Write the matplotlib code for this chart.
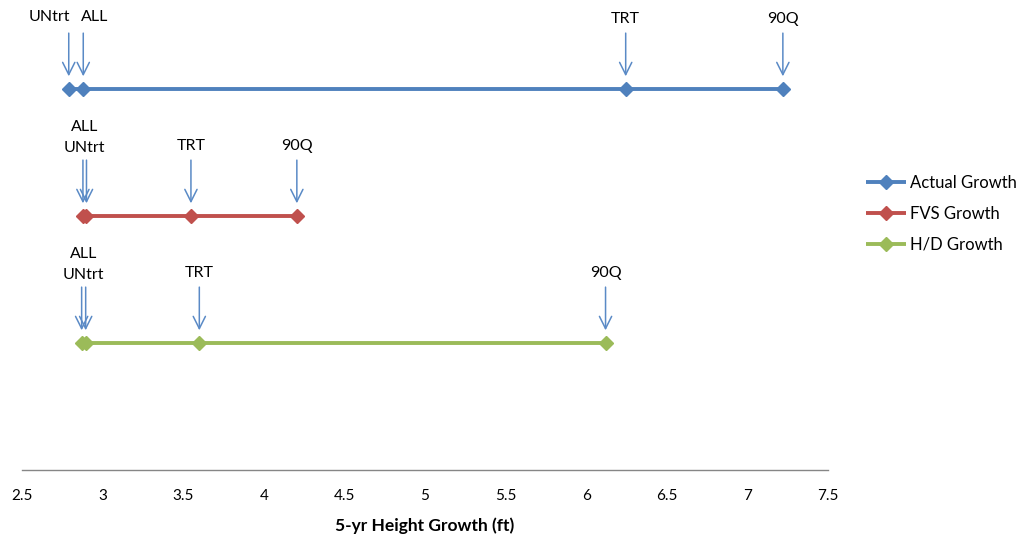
import numpy as np
import matplotlib
matplotlib.use("Agg")
import matplotlib.pyplot as plt

plt.rcParams['font.family'] = ['Lato', 'DejaVu Sans']

# values (ft)
stats = ['UNtrt', 'ALL', 'TRT', '90Q']
series = ['Actual Growth', 'FVS Growth', 'H/D Growth']
actual = [2.79, 2.88, 6.245, 7.22]
fvs = [2.878, 2.90, 3.548, 4.205]
hd = [2.87, 2.895, 3.60, 6.12]
rows = [3, 2, 1]
colors = ['#4F81BD', '#C0504D', '#9BBB59']
arrow_col = '#5A8AC6'

fig = plt.figure(figsize=(10.26, 5.37), dpi=100)
ax = fig.add_axes([22/1026, 67/537, 806/1026, 470/537])

for name, vals, yrow, c in zip(series, [actual, fvs, hd], rows, colors):
    xs = np.sort(vals)
    ax.plot(xs, [yrow]*len(xs), color=c, lw=2.8, marker='D', ms=7,
            solid_capstyle='butt', label=name, zorder=3)
    close = abs(vals[0] - vals[1]) < 0.05
    for i, (s, v) in enumerate(zip(stats, vals)):
        ax.annotate('', xy=(v, yrow + 0.10), xytext=(v, yrow + 0.44),
                    arrowprops=dict(arrowstyle='->', color=arrow_col, lw=1.1,
                                    mutation_scale=22, shrinkA=0, shrinkB=0))
        if i < 2 and close:
            xc = (vals[0] + vals[1]) / 2
            ty = yrow + 0.535 if s == 'UNtrt' else yrow + 0.70
            ax.text(xc, ty, s, ha='center', va='center', fontsize=11.5)
        elif i == 0:
            ax.annotate(s, xy=(v, yrow + 0.565), xytext=(1, 0), textcoords='offset points',
                        ha='right', va='center', fontsize=11.5)
        elif i == 1:
            ax.annotate(s, xy=(v, yrow + 0.565), xytext=(-2, 0), textcoords='offset points',
                        ha='left', va='center', fontsize=11.5)
        else:
            ax.text(v, yrow + 0.55, s, ha='center', va='center', fontsize=11.5)

ax.set_xlim(2.5, 7.5)
ax.set_ylim(0, 470/127)
ax.set_xticks(np.arange(2.5, 7.51, 0.5))
ax.set_xticklabels(['2.5', '3', '3.5', '4', '4.5', '5', '5.5', '6', '6.5', '7', '7.5'])
ax.tick_params(axis='x', length=0, labelsize=11, pad=14)
ax.set_yticks([])
for sp in ['top', 'right', 'left']:
    ax.spines[sp].set_visible(False)
ax.spines['bottom'].set_color('#868686')
ax.spines['bottom'].set_linewidth(1.0)
ax.set_xlabel('5-yr Height Growth (ft)', fontsize=12.5, fontweight='bold', labelpad=10)

fig.legend(loc='center left', bbox_to_anchor=(866/1026, 1 - 214/537), frameon=False,
           fontsize=12, handlelength=2.4, handletextpad=0.25, labelspacing=0.9,
           borderpad=0, borderaxespad=0)

fig.savefig('out.png', dpi=100)
